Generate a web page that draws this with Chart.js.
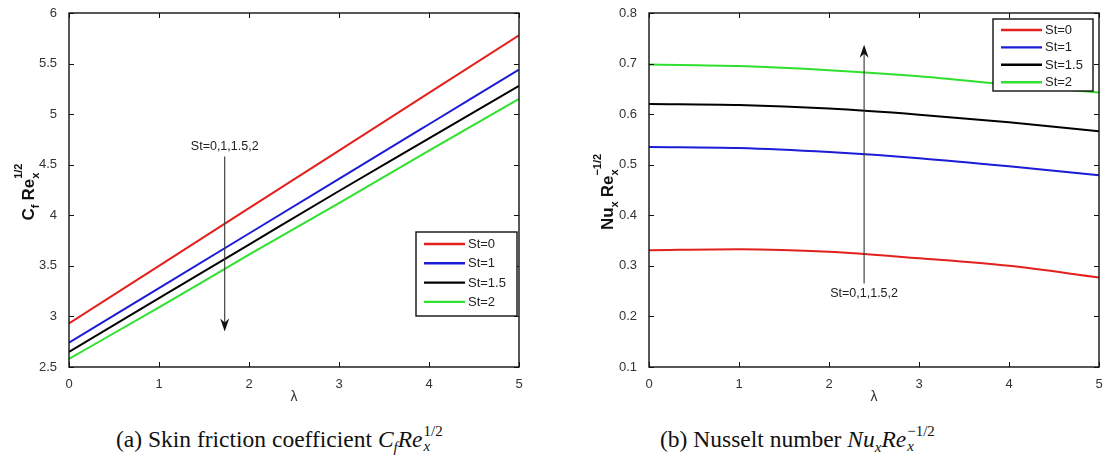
<!DOCTYPE html>
<html>
<head>
<meta charset="utf-8">
<script src="https://cdn.jsdelivr.net/npm/chart.js@4.4.1/dist/chart.umd.min.js"></script>
<style>
  html, body { margin:0; padding:0; background:#fff; }
  body { width:1107px; height:468px; position:relative; overflow:hidden; }
  .panel { position:absolute; top:0; height:410px; }
  #panelA { left:0; width:540px; }
  #panelB { left:560px; width:547px; }
  .cap { position:absolute; top:424px; font-family:"Liberation Serif","DejaVu Serif",serif; font-size:23.5px; color:#111; white-space:nowrap; line-height:28px; }
  .cap i { font-style:italic; }
  .cap sub { font-size:15px; vertical-align:-5px; line-height:0; }
  .ss { display:inline-block; position:relative; width:28px; height:23px; }
  .ss sup, .ss sub { position:absolute; left:1px; font-size:15px; line-height:17px; vertical-align:baseline; }
  .ss sup { top:-1px; }
  .ss sub { top:14px; }
</style>
</head>
<body>
<div class="panel" id="panelA"><canvas id="cfChart"></canvas></div>
<div class="panel" id="panelB"><canvas id="nuChart"></canvas></div>
<div class="cap" style="left:116px">(a) Skin friction coefficient <i>C</i><sub><i>f</i></sub><i>Re</i><span class="ss"><sup>1/2</sup><sub><i>x</i></sub></span></div>
<div class="cap" style="left:660px">(b) Nusselt number <i>Nu</i><sub><i>x</i></sub><i>Re</i><span class="ss" style="width:38px"><sup>−1/2</sup><sub><i>x</i></sub></span></div>
<script>
// ===== data =====
const lambda = [0, 1, 2, 3, 4, 5];
const stLabels = ["St=0", "St=1", "St=1.5", "St=2"];
const stColors = ["#e3201e", "#1c1cd6", "#000000", "#2fe02f"];

// (a) skin friction C_f Re_x^{1/2}
const cfSt0  = [2.93, 3.50, 4.07, 4.64, 5.21, 5.78];
const cfSt1  = [2.74, 3.28, 3.82, 4.36, 4.90, 5.44];
const cfSt15 = [2.65, 3.18, 3.71, 4.24, 4.76, 5.28];
const cfSt2  = [2.58, 3.09, 3.61, 4.12, 4.64, 5.15];

// (b) Nusselt number Nu_x Re_x^{-1/2}
const nuSt0  = [0.331, 0.333, 0.328, 0.315, 0.300, 0.277];
const nuSt1  = [0.535, 0.533, 0.525, 0.513, 0.497, 0.479];
const nuSt15 = [0.620, 0.618, 0.611, 0.599, 0.584, 0.566];
const nuSt2  = [0.698, 0.695, 0.687, 0.675, 0.658, 0.643];

const xTicks  = [0, 1, 2, 3, 4, 5];
const cfTicks = [2.5, 3, 3.5, 4, 4.5, 5, 5.5, 6];
const nuTicks = [0.1, 0.2, 0.3, 0.4, 0.5, 0.6, 0.7, 0.8];
const arrowText = "St=0,1,1.5,2";

const SANS = "'Liberation Sans', Arial, sans-serif";

function makeDatasets(series){
  return series.map((ys, i) => ({
    label: stLabels[i],
    data: ys.map((y, k) => ({ x: lambda[k], y })),
    borderColor: stColors[i],
    borderWidth: 2,
    pointRadius: 0,
    cubicInterpolationMode: "monotone",
    fill: false
  }));
}

// ===== custom drawing: frame, inward ticks, arrow, legend, y title =====
const deco = {
  id: "deco",
  afterDraw(chart, args, o){
    const c = chart.ctx, a = chart.chartArea;
    const xs = chart.scales.x, ys = chart.scales.y;
    c.save();
    // box + inward ticks (matlab style)
    c.strokeStyle = "#111"; c.lineWidth = 1.4;
    c.strokeRect(a.left, a.top, a.right - a.left, a.bottom - a.top);
    c.lineWidth = 1;
    for (const v of o.xTicks){
      const px = Math.round(xs.getPixelForValue(v)) + 0.5;
      c.beginPath(); c.moveTo(px, a.bottom); c.lineTo(px, a.bottom - 5);
      c.moveTo(px, a.top); c.lineTo(px, a.top + 5); c.stroke();
    }
    for (const v of o.yTicks){
      const py = Math.round(ys.getPixelForValue(v)) + 0.5;
      c.beginPath(); c.moveTo(a.left, py); c.lineTo(a.left + 5, py);
      c.moveTo(a.right, py); c.lineTo(a.right - 5, py); c.stroke();
    }
    // arrow
    const ax = xs.getPixelForValue(o.arrow.x);
    const y0 = ys.getPixelForValue(o.arrow.from), y1 = ys.getPixelForValue(o.arrow.to);
    const dir = y1 > y0 ? 1 : -1;
    c.strokeStyle = "#333"; c.lineWidth = 1.1;
    c.beginPath(); c.moveTo(ax, y0); c.lineTo(ax, y1 - dir * 6); c.stroke();
    c.fillStyle = "#111";
    c.beginPath();
    c.moveTo(ax, y1);
    c.lineTo(ax - 4.5, y1 - dir * 13);
    c.lineTo(ax, y1 - dir * 9);
    c.lineTo(ax + 4.5, y1 - dir * 13);
    c.closePath(); c.fill();
    c.font = "12.5px " + SANS; c.fillStyle = "#222";
    c.textAlign = "center"; c.textBaseline = "middle";
    c.fillText(arrowText, xs.getPixelForValue(o.arrow.x), ys.getPixelForValue(o.arrow.textY));
    // legend
    const L = o.legend;
    c.fillStyle = "#fff";
    c.fillRect(L.x, L.y, L.w, L.h);
    c.strokeStyle = "#111"; c.lineWidth = 1.4;
    c.strokeRect(L.x, L.y, L.w, L.h);
    c.font = "13px " + SANS; c.textAlign = "left"; c.textBaseline = "middle";
    chart.data.datasets.forEach((ds, i) => {
      const yy = L.row0 + i * L.step;
      c.strokeStyle = ds.borderColor; c.lineWidth = 2.4;
      c.beginPath(); c.moveTo(L.x + 8, yy); c.lineTo(L.x + 49, yy); c.stroke();
      c.fillStyle = "#222";
      c.fillText(ds.label, L.x + 52, yy + 0.5);
    });
    // rotated y-axis title with sub/superscripts
    c.translate(o.ytitle.x, o.ytitle.y);
    c.rotate(-Math.PI / 2);
    const parts = o.ytitle.parts;
    const big = "bold 17px " + SANS, small = "bold 11px " + SANS;
    let w = 0;
    for (const p of parts){
      c.font = p.k === "n" ? big : small;
      const pw = Math.max(c.measureText(p.t).width, p.t2 ? c.measureText(p.t2).width : 0);
      w += pw + (p.gap || 0);
    }
    let cx = -w / 2;
    c.fillStyle = "#111"; c.textAlign = "left"; c.textBaseline = "alphabetic";
    for (const p of parts){
      if (p.k === "n"){
        c.font = big; c.fillText(p.t, cx, 6);
        cx += c.measureText(p.t).width + (p.gap || 0);
      } else {
        c.font = small;
        c.fillText(p.t, cx, 11);            // subscript
        let pw = c.measureText(p.t).width;
        if (p.t2){ c.fillText(p.t2, cx, -6); pw = Math.max(pw, c.measureText(p.t2).width); }
        cx += pw + (p.gap || 0);
      }
    }
    c.restore();
  }
};

function baseOptions(yMin, yMax, yStep, yWidth, rightPad, extra){
  return {
    responsive: true,
    maintainAspectRatio: false,
    animation: false,
    layout: { padding: { top: 13, right: rightPad, left: 0, bottom: 0 } },
    scales: {
      x: {
        type: "linear", min: 0, max: 5,
        grid: { display: false }, border: { display: false },
        ticks: { stepSize: 1, padding: 2, color: "#333", font: { family: SANS, size: 13 }, maxRotation: 0 },
        title: { display: true, text: "λ", color: "#333", font: { family: SANS, size: 14 }, padding: { top: 0 } },
        afterFit: s => { s.height = 43; }
      },
      y: {
        min: yMin, max: yMax,
        grid: { display: false }, border: { display: false },
        ticks: { stepSize: yStep, padding: 4, color: "#333", font: { family: SANS, size: 13 },
                 callback: v => String(+v.toFixed(2)) },
        afterFit: s => { s.width = yWidth; }
      }
    },
    plugins: { legend: { display: false }, tooltip: { enabled: false }, deco: extra }
  };
}

new Chart(document.getElementById("cfChart"), {
  type: "line",
  data: { datasets: makeDatasets([cfSt0, cfSt1, cfSt15, cfSt2]) },
  options: baseOptions(2.5, 6, 0.5, 69, 21, {
    xTicks, yTicks: cfTicks,
    arrow: { x: 1.73, from: 4.58, to: 2.85, textY: 4.68 },
    legend: { x: 416, y: 232, w: 101, h: 84, row0: 244, step: 19.3 },
    ytitle: { x: 28, y: 192, parts: [
      { k: "n", t: "C" }, { k: "s", t: "f", gap: 4 },
      { k: "n", t: "Re" }, { k: "s", t: "x", t2: "1/2" }
    ] }
  }),
  plugins: [deco]
});

new Chart(document.getElementById("nuChart"), {
  type: "line",
  data: { datasets: makeDatasets([nuSt0, nuSt1, nuSt15, nuSt2]) },
  options: baseOptions(0.1, 0.8, 0.1, 89, 8, {
    xTicks, yTicks: nuTicks,
    arrow: { x: 2.39, from: 0.265, to: 0.737, textY: 0.245 },
    legend: { x: 433, y: 19, w: 100, h: 72, row0: 30, step: 17.4 },
    ytitle: { x: 47, y: 192, parts: [
      { k: "n", t: "Nu" }, { k: "s", t: "x", gap: 4 },
      { k: "n", t: "Re" }, { k: "s", t: "x", t2: "−1/2" }
    ] }
  }),
  plugins: [deco]
});
</script>
</body>
</html>
